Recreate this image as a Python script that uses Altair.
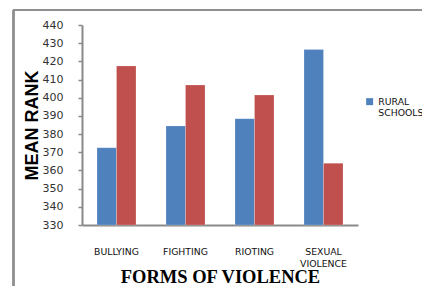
import altair as alt
import pandas as pd

categories = ["BULLYING", "FIGHTING", "RIOTING", "SEXUAL VIOLENCE"]
series = ["RURAL SCHOOLS", "URBAN SCHOOLS"]
rural = [372.5, 384.5, 388.5, 426.5]
urban = [417.5, 407.0, 401.5, 364.0]
y_min, y_max = 330, 440

rows = []
for c, r, u in zip(categories, rural, urban):
    rows.append({"form": c, "school": series[0], "rank": r})
    rows.append({"form": c, "school": series[1], "rank": u})
df = pd.DataFrame(rows)

axis_gray = "#898989"

bars = alt.Chart(df).mark_bar(stroke="#ffffff", strokeOpacity=0.35, strokeWidth=0.6).encode(
    x=alt.X("form:N", sort=categories,
            scale=alt.Scale(paddingInner=0.435, paddingOuter=0.2175),
            axis=alt.Axis(title="FORMS OF VIOLENCE", labelAngle=0, ticks=False,
                          domainColor=axis_gray, domainWidth=2,
                          labelFont="DejaVu Sans", labelFontSize=9.3, labelColor="#111111",
                          labelPadding=22, labelBaseline="top", labelLineHeight=12,
                          labelExpr="split(datum.label, ' ')",
                          titleFont="Liberation Serif", titleFontSize=18.5,
                          titleFontWeight="bold", titleColor="#000000",
                          titleY=57, titleBaseline="alphabetic")),
    xOffset=alt.XOffset("school:N", sort=series, scale=alt.Scale(paddingInner=0, paddingOuter=0)),
    y=alt.Y("rank:Q", scale=alt.Scale(domain=[y_min, y_max], zero=False, nice=False),
            axis=alt.Axis(title="MEAN RANK", values=list(range(y_min, y_max + 1, 10)), grid=False,
                          domainColor=axis_gray, domainWidth=2,
                          tickColor=axis_gray, tickSize=4, tickWidth=1.5,
                          labelFont="DejaVu Sans", labelFontSize=11, labelColor="#333333",
                          labelPadding=15,
                          titleFont="Liberation Sans", titleFontSize=18, titleFontWeight="bold",
                          titleColor="#000000", titleX=-45, titleY=100, titleAngle=270,
                          titleBaseline="alphabetic", titleAlign="center")),
    y2=alt.Y2(datum=y_min),
    color=alt.Color("school:N", sort=series,
                    scale=alt.Scale(domain=series, range=["#4F81BD", "#C0504D"]),
                    legend=alt.Legend(title=None, values=["RURAL SCHOOLS"], orient="none",
                                      legendX=283, legendY=72, padding=0,
                                      symbolType="square", symbolSize=49, symbolStrokeWidth=0,
                                      labelFont="DejaVu Sans", labelFontSize=9.3,
                                      labelColor="#111111", labelOffset=4, labelLimit=300,
                                      labelExpr="split(datum.label, ' ')")),
)

frame_top = alt.Chart(df).mark_rule(color="#8f8f8f", strokeWidth=1.5).encode(
    x=alt.value(-69), x2=alt.value(400), y=alt.value(-15)
)
frame_left = alt.Chart(df).mark_rule(color="#8f8f8f", strokeWidth=1.5).encode(
    x=alt.value(-68.5), y=alt.value(-15), y2=alt.value(300)
)

chart = alt.layer(bars, frame_top, frame_left).properties(
    width=276, height=200,
    autosize=alt.AutoSizeParams(type="none"),
    padding={"left": 74, "top": 17, "right": 64, "bottom": 61},
).configure_view(stroke=None)

chart.save("out.html", embed_options={"renderer": "svg", "actions": False})
